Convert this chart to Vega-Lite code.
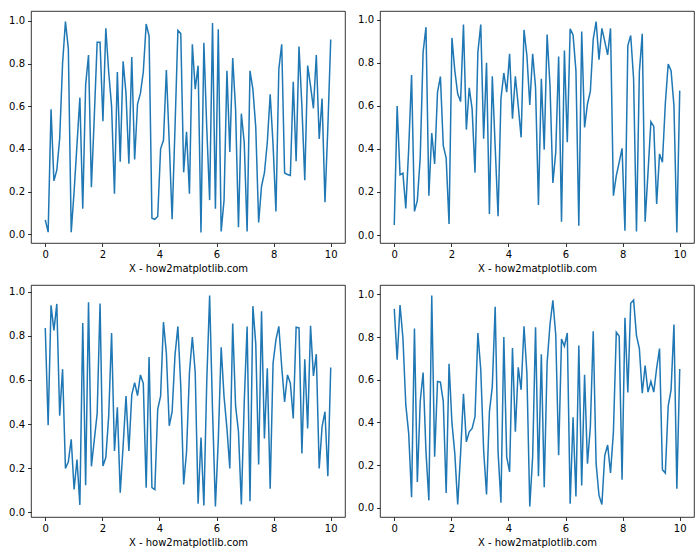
{
  "$schema": "https://vega.github.io/schema/vega-lite/v6.json",
  "background": "white",
  "padding": {"left": 8, "top": 10, "right": 5, "bottom": 5},
  "spacing": 10,
  "config": {
    "view": {"stroke": "#000", "strokeWidth": 0.8},
    "axis": {"grid": false, "domain": false, "tickColor": "#000", "tickSize": 3.5, "tickWidth": 0.8, "labelFont": "DejaVu Sans", "labelFontSize": 10, "labelColor": "#000", "labelPadding": 3, "titleFont": "DejaVu Sans", "titleFontSize": 10, "titleFontWeight": "normal", "titleColor": "#000", "titlePadding": 4},
    "line": {"color": "#1f77b4", "strokeWidth": 1.5}
  },
  "data": {"values": [
    {"x":0,"a":0.067,"b":0.047,"c":0.836,"d":0.932},
    {"x":0.101,"a":0.01,"b":0.60,"c":0.395,"d":0.694},
    {"x":0.202,"a":0.585,"b":0.28,"c":0.939,"d":0.95},
    {"x":0.303,"a":0.25,"b":0.287,"c":0.825,"d":0.796},
    {"x":0.404,"a":0.30,"b":0.124,"c":0.945,"d":0.482},
    {"x":0.505,"a":0.45,"b":0.4,"c":0.438,"d":0.349},
    {"x":0.606,"a":0.8,"b":0.744,"c":0.649,"d":0.05},
    {"x":0.707,"a":0.997,"b":0.11,"c":0.198,"d":0.84},
    {"x":0.808,"a":0.87,"b":0.16,"c":0.228,"d":0.121},
    {"x":0.909,"a":0.01,"b":0.36,"c":0.331,"d":0.498},
    {"x":1.010,"a":0.2,"b":0.85,"c":0.103,"d":0.634},
    {"x":1.111,"a":0.42,"b":0.966,"c":0.239,"d":0.262},
    {"x":1.212,"a":0.64,"b":0.183,"c":0.033,"d":0.035},
    {"x":1.313,"a":0.12,"b":0.474,"c":0.859,"d":0.995},
    {"x":1.414,"a":0.70,"b":0.33,"c":0.122,"d":0.239},
    {"x":1.515,"a":0.84,"b":0.664,"c":0.953,"d":0.592},
    {"x":1.616,"a":0.22,"b":0.736,"c":0.208,"d":0.589},
    {"x":1.717,"a":0.55,"b":0.415,"c":0.327,"d":0.498},
    {"x":1.818,"a":0.90,"b":0.357,"c":0.448,"d":0.069},
    {"x":1.919,"a":0.90,"b":0.051,"c":0.947,"d":0.675},
    {"x":2.020,"a":0.53,"b":0.916,"c":0.21,"d":0.399},
    {"x":2.121,"a":0.965,"b":0.764,"c":0.248,"d":0.254},
    {"x":2.222,"a":0.76,"b":0.656,"c":0.436,"d":0.016},
    {"x":2.323,"a":0.60,"b":0.62,"c":0.813,"d":0.254},
    {"x":2.424,"a":0.19,"b":0.978,"c":0.278,"d":0.534},
    {"x":2.525,"a":0.76,"b":0.49,"c":0.476,"d":0.309},
    {"x":2.626,"a":0.34,"b":0.684,"c":0.088,"d":0.356},
    {"x":2.727,"a":0.81,"b":0.586,"c":0.3,"d":0.372},
    {"x":2.828,"a":0.66,"b":0.29,"c":0.527,"d":0.427},
    {"x":2.929,"a":0.33,"b":0.85,"c":0.278,"d":0.819},
    {"x":3.030,"a":0.83,"b":0.978,"c":0.532,"d":0.647},
    {"x":3.131,"a":0.35,"b":0.447,"c":0.588,"d":0.27},
    {"x":3.232,"a":0.61,"b":0.80,"c":0.529,"d":0.063},
    {"x":3.333,"a":0.66,"b":0.098,"c":0.623,"d":0.45},
    {"x":3.434,"a":0.76,"b":0.738,"c":0.585,"d":0.568},
    {"x":3.535,"a":0.985,"b":0.41,"c":0.111,"d":0.942},
    {"x":3.636,"a":0.93,"b":0.087,"c":0.704,"d":0.262},
    {"x":3.737,"a":0.075,"b":0.633,"c":0.111,"d":0.024},
    {"x":3.838,"a":0.07,"b":0.753,"c":0.102,"d":0.80},
    {"x":3.939,"a":0.083,"b":0.664,"c":0.467,"d":0.239},
    {"x":4.040,"a":0.40,"b":0.842,"c":0.527,"d":0.168},
    {"x":4.141,"a":0.44,"b":0.54,"c":0.863,"d":0.749},
    {"x":4.242,"a":0.77,"b":0.738,"c":0.722,"d":0.356},
    {"x":4.343,"a":0.43,"b":0.60,"c":0.392,"d":0.658},
    {"x":4.444,"a":0.07,"b":0.454,"c":0.456,"d":0.553},
    {"x":4.545,"a":0.5,"b":0.953,"c":0.714,"d":0.851},
    {"x":4.646,"a":0.955,"b":0.834,"c":0.843,"d":0.631},
    {"x":4.747,"a":0.94,"b":0.605,"c":0.57,"d":0.006},
    {"x":4.848,"a":0.29,"b":0.842,"c":0.126,"d":0.239},
    {"x":4.949,"a":0.48,"b":0.687,"c":0.274,"d":0.846},
    {"x":5.051,"a":0.19,"b":0.14,"c":0.634,"d":0.148},
    {"x":5.152,"a":0.89,"b":0.726,"c":0.795,"d":0.72},
    {"x":5.253,"a":0.68,"b":0.397,"c":0.634,"d":0.097},
    {"x":5.354,"a":0.79,"b":0.932,"c":0.038,"d":0.678},
    {"x":5.455,"a":0.008,"b":0.695,"c":0.339,"d":0.859},
    {"x":5.556,"a":0.897,"b":0.242,"c":0.03,"d":0.972},
    {"x":5.657,"a":0.5,"b":0.385,"c":0.593,"d":0.81},
    {"x":5.758,"a":0.16,"b":0.83,"c":0.983,"d":0.246},
    {"x":5.859,"a":0.99,"b":0.062,"c":0.464,"d":0.791},
    {"x":5.960,"a":0.12,"b":0.857,"c":0.026,"d":0.757},
    {"x":6.061,"a":0.96,"b":0.431,"c":0.327,"d":0.819},
    {"x":6.162,"a":0.013,"b":0.958,"c":0.748,"d":0.019},
    {"x":6.263,"a":0.16,"b":0.93,"c":0.524,"d":0.424},
    {"x":6.364,"a":0.766,"b":0.764,"c":0.38,"d":0.053},
    {"x":6.465,"a":0.386,"b":0.043,"c":0.198,"d":0.761},
    {"x":6.566,"a":0.826,"b":0.946,"c":0.856,"d":0.105},
    {"x":6.667,"a":0.585,"b":0.50,"c":0.482,"d":0.623},
    {"x":6.768,"a":0.033,"b":0.609,"c":0.365,"d":0.207},
    {"x":6.869,"a":0.565,"b":0.667,"c":0.035,"d":0.38},
    {"x":6.970,"a":0.43,"b":0.91,"c":0.5,"d":0.827},
    {"x":7.071,"a":0.013,"b":0.992,"c":0.843,"d":0.207},
    {"x":7.172,"a":0.766,"b":0.815,"c":0.05,"d":0.058},
    {"x":7.273,"a":0.68,"b":0.96,"c":0.935,"d":0.016},
    {"x":7.374,"a":0.50,"b":0.90,"c":0.764,"d":0.246},
    {"x":7.475,"a":0.055,"b":0.837,"c":0.216,"d":0.294},
    {"x":7.576,"a":0.225,"b":0.96,"c":0.912,"d":0.163},
    {"x":7.677,"a":0.287,"b":0.183,"c":0.334,"d":0.356},
    {"x":7.778,"a":0.43,"b":0.276,"c":0.653,"d":0.823},
    {"x":7.879,"a":0.656,"b":0.338,"c":0.106,"d":0.804},
    {"x":7.980,"a":0.42,"b":0.403,"c":0.676,"d":0.132},
    {"x":8.081,"a":0.107,"b":0.02,"c":0.783,"d":0.89},
    {"x":8.182,"a":0.774,"b":0.88,"c":0.843,"d":0.54},
    {"x":8.283,"a":0.89,"b":0.927,"c":0.66,"d":0.958},
    {"x":8.384,"a":0.287,"b":0.725,"c":0.50,"d":0.973},
    {"x":8.485,"a":0.28,"b":0.016,"c":0.623,"d":0.807},
    {"x":8.586,"a":0.275,"b":0.757,"c":0.585,"d":0.746},
    {"x":8.687,"a":0.714,"b":0.935,"c":0.425,"d":0.537},
    {"x":8.788,"a":0.342,"b":0.062,"c":0.839,"d":0.667},
    {"x":8.889,"a":0.88,"b":0.29,"c":0.836,"d":0.542},
    {"x":8.990,"a":0.6,"b":0.527,"c":0.266,"d":0.592},
    {"x":9.091,"a":0.253,"b":0.505,"c":0.694,"d":0.542},
    {"x":9.192,"a":0.79,"b":0.144,"c":0.38,"d":0.655},
    {"x":9.293,"a":0.695,"b":0.377,"c":0.846,"d":0.746},
    {"x":9.394,"a":0.59,"b":0.338,"c":0.618,"d":0.179},
    {"x":9.495,"a":0.84,"b":0.61,"c":0.717,"d":0.163},
    {"x":9.596,"a":0.447,"b":0.795,"c":0.198,"d":0.477},
    {"x":9.697,"a":0.636,"b":0.764,"c":0.388,"d":0.553},
    {"x":9.798,"a":0.15,"b":0.60,"c":0.456,"d":0.859},
    {"x":9.899,"a":0.5,"b":0.012,"c":0.163,"d":0.09},
    {"x":10.0,"a":0.912,"b":0.671,"c":0.657,"d":0.65}
  ]},
  "vconcat": [
    {"spacing": 11, "hconcat": [
      {"width": 314, "height": 232, "mark": {"type": "line"},
       "encoding": {
         "x": {"field": "x", "type": "quantitative", "scale": {"domain": [-0.5, 10.5], "nice": false, "zero": false}, "axis": {"title": "X - how2matplotlib.com", "values": [0, 2, 4, 6, 8, 10]}},
         "y": {"field": "a", "type": "quantitative", "scale": {"domain": [-0.041, 1.046], "nice": false, "zero": false}, "axis": {"title": null, "values": [0, 0.2, 0.4, 0.6, 0.8, 1.0], "format": ".1f"}}}},
      {"width": 314, "height": 232, "mark": {"type": "line"},
       "encoding": {
         "x": {"field": "x", "type": "quantitative", "scale": {"domain": [-0.5, 10.5], "nice": false, "zero": false}, "axis": {"title": "X - how2matplotlib.com", "values": [0, 2, 4, 6, 8, 10]}},
         "y": {"field": "b", "type": "quantitative", "scale": {"domain": [-0.037, 1.041], "nice": false, "zero": false}, "axis": {"title": null, "values": [0, 0.2, 0.4, 0.6, 0.8, 1.0], "format": ".1f"}}}}
    ]},
    {"spacing": 11, "hconcat": [
      {"width": 314, "height": 232, "mark": {"type": "line"},
       "encoding": {
         "x": {"field": "x", "type": "quantitative", "scale": {"domain": [-0.5, 10.5], "nice": false, "zero": false}, "axis": {"title": "X - how2matplotlib.com", "values": [0, 2, 4, 6, 8, 10]}},
         "y": {"field": "c", "type": "quantitative", "scale": {"domain": [-0.022, 1.031], "nice": false, "zero": false}, "axis": {"title": null, "values": [0, 0.2, 0.4, 0.6, 0.8, 1.0], "format": ".1f"}}}},
      {"width": 314, "height": 232, "mark": {"type": "line"},
       "encoding": {
         "x": {"field": "x", "type": "quantitative", "scale": {"domain": [-0.5, 10.5], "nice": false, "zero": false}, "axis": {"title": "X - how2matplotlib.com", "values": [0, 2, 4, 6, 8, 10]}},
         "y": {"field": "d", "type": "quantitative", "scale": {"domain": [-0.043, 1.044], "nice": false, "zero": false}, "axis": {"title": null, "values": [0, 0.2, 0.4, 0.6, 0.8, 1.0], "format": ".1f"}}}}
    ]}
  ]
}
